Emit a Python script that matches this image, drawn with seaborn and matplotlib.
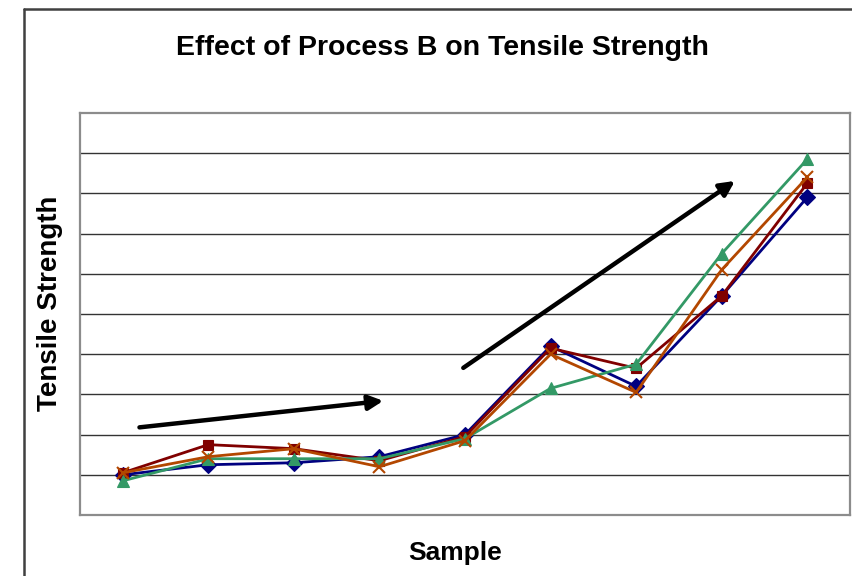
import matplotlib
matplotlib.use("Agg")
import matplotlib.pyplot as plt
from matplotlib.lines import Line2D
import seaborn as sns
import pandas as pd

sns.set_theme(style="white")
plt.rcParams["font.family"] = ["Liberation Sans", "DejaVu Sans"]

# Tensile strength readings for nine samples, four runs of Process B
samples = [1, 2, 3, 4, 5, 6, 7, 8, 9]
run_a = [1.0, 1.25, 1.3, 1.45, 2.0, 4.2, 3.2, 5.45, 7.9]
run_b = [1.05, 1.75, 1.65, 1.35, 1.95, 4.15, 3.65, 5.45, 8.25]
run_c = [0.85, 1.4, 1.4, 1.4, 1.9, 3.15, 3.75, 6.5, 8.85]
run_d = [1.05, 1.45, 1.65, 1.2, 1.85, 4.0, 3.05, 6.1, 8.4]

series = [
    ("Run A", run_a, "#000080", "D", 8.5),
    ("Run B", run_b, "#800000", "s", 7.5),
    ("Run C", run_c, "#339966", "^", 8.5),
    ("Run D", run_d, "#B34700", "x", 8.5),
]

fig = plt.figure(figsize=(8.52, 5.76), dpi=100)
fig.patch.set_facecolor("white")
ax = fig.add_axes([80 / 852, 61 / 576, 770 / 852, 402 / 576])

for name, vals, color, marker, ms in series:
    df = pd.DataFrame({"sample": samples, "strength": vals})
    sns.lineplot(data=df, x="sample", y="strength", ax=ax, color=color,
                 marker=marker, markersize=ms, linewidth=2.0,
                 markeredgecolor=color, markeredgewidth=1.5 if marker == "x" else 0.8,
                 label=name, legend=False)

ax.set_xlim(0.5, 9.5)
ax.set_ylim(0, 10)
ax.set_yticks(range(1, 10))
ax.set_xticks([])
ax.set_yticklabels([])
ax.tick_params(left=False, bottom=False)
ax.yaxis.grid(True, color="#333333", linewidth=1.0)
ax.set_axisbelow(True)
for sp in ax.spines.values():
    sp.set_color("#8c8c8c")
    sp.set_linewidth(1.6)

# Trend arrows
arrow_kw = dict(arrowstyle="-|>", color="black", lw=3.2, mutation_scale=22,
                shrinkA=0, shrinkB=0)
ax.annotate("", xy=(4.045, 2.84), xytext=(1.195, 2.18), arrowprops=arrow_kw)
ax.annotate("", xy=(8.155, 8.31), xytext=(4.98, 3.66), arrowprops=arrow_kw)

ax.set_xlabel("Sample", fontsize=19, fontweight="bold", color="black")
ax.xaxis.set_label_coords(0.487, -0.095)
ax.xaxis.label.set_va("center")
ax.set_ylabel("Tensile Strength", fontsize=20, fontweight="bold", color="black")
ax.yaxis.set_label_coords(-0.039, 0.527)
ax.yaxis.label.set_va("center")
fig.text(442 / 852, 1 - 48 / 576, "Effect of Process B on Tensile Strength",
         ha="center", va="center", fontsize=20.5, fontweight="bold", color="black")

# Outer chart frame
fig.add_artist(Line2D([24 / 852, 24 / 852], [0, 1 - 9 / 576], color="#404040", lw=1.8,
                      transform=fig.transFigure))
fig.add_artist(Line2D([24 / 852, 1], [1 - 9 / 576, 1 - 9 / 576], color="#404040", lw=1.8,
                      transform=fig.transFigure))

fig.savefig("out.png", dpi=100)
